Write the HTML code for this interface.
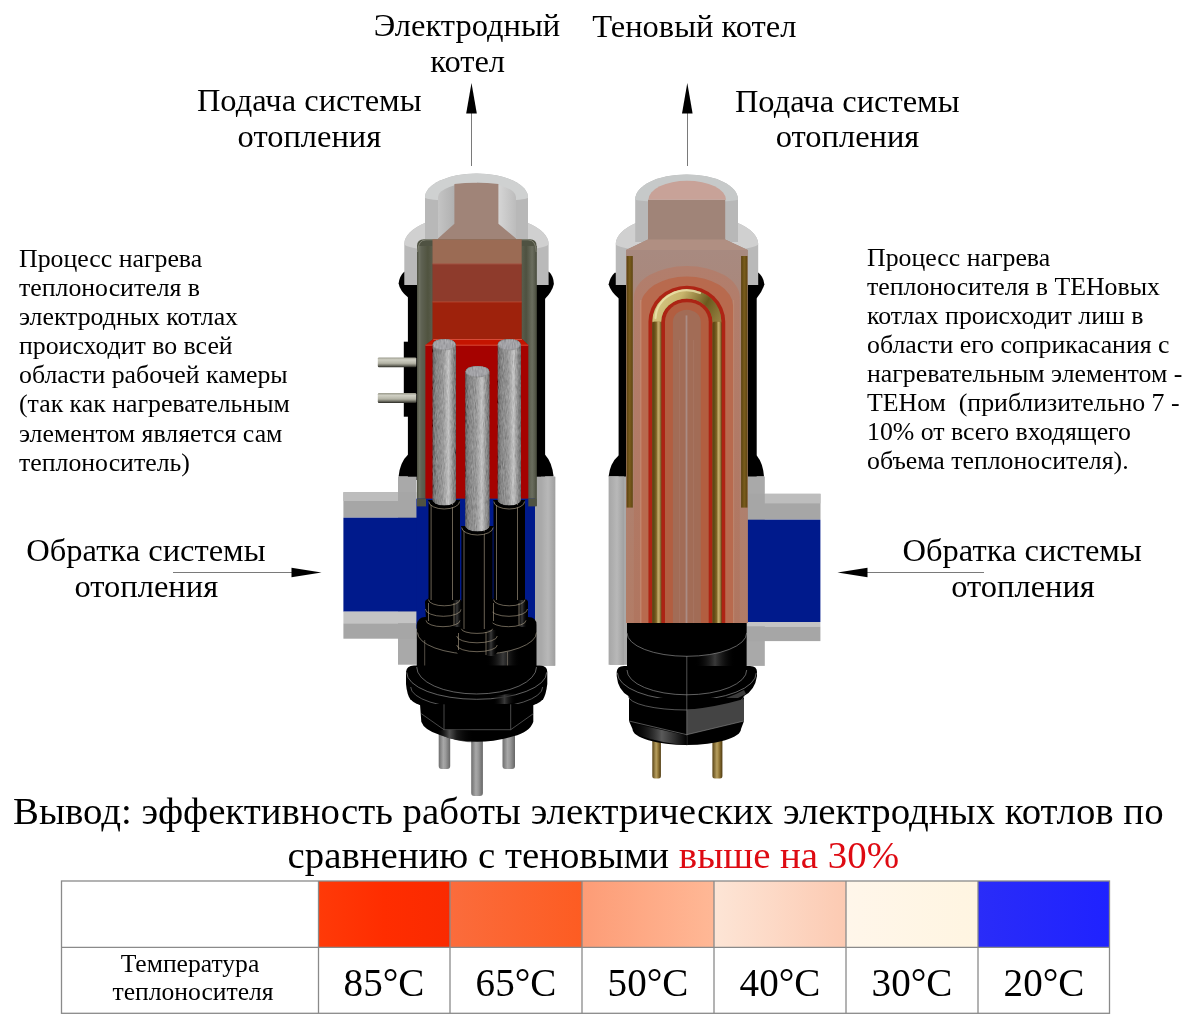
<!DOCTYPE html>
<html><head><meta charset="utf-8">
<style>
html,body{margin:0;padding:0;background:#fff;width:1200px;height:1021px;overflow:hidden}
svg{position:absolute;left:0;top:0;display:block;will-change:transform}
text{font-family:"Liberation Serif",serif;fill:#000}
.t32{font-size:32.5px}
.p{font-size:25.8px}
.c{font-size:38.85px}
.tv{font-size:39.1px}
.tl{font-size:25.6px}
</style></head>
<body>
<svg width="1200" height="1021" viewBox="0 0 1200 1021">
<defs>
  <linearGradient id="elec" x1="0" x2="1">
    <stop offset="0" stop-color="#646464"/><stop offset="0.15" stop-color="#848484"/><stop offset="0.45" stop-color="#979797"/><stop offset="0.68" stop-color="#c2c2c2"/><stop offset="0.85" stop-color="#929292"/><stop offset="1" stop-color="#6a6a6a"/>
  </linearGradient>
  <linearGradient id="pin" x1="0" x2="1">
    <stop offset="0" stop-color="#6e6e6e"/><stop offset="0.4" stop-color="#a8a8a8"/><stop offset="0.6" stop-color="#9a9a9a"/><stop offset="1" stop-color="#666"/>
  </linearGradient>
  <linearGradient id="pinG" x1="0" x2="1">
    <stop offset="0" stop-color="#5a4416"/><stop offset="0.45" stop-color="#b8a060"/><stop offset="0.65" stop-color="#9a7e3c"/><stop offset="1" stop-color="#4e3a10"/>
  </linearGradient>
  <linearGradient id="rod" x1="0" x2="0" y1="0" y2="1">
    <stop offset="0" stop-color="#9a9a8c"/><stop offset="0.25" stop-color="#cfcfc3"/><stop offset="0.6" stop-color="#b4b4a6"/><stop offset="0.8" stop-color="#7a7a6e"/><stop offset="1" stop-color="#2a2a24"/>
  </linearGradient>
  <linearGradient id="cavL" x1="0" x2="1">
    <stop offset="0" stop-color="#c4c4c4"/><stop offset="0.6" stop-color="#a8a8a8"/><stop offset="1" stop-color="#e6e6e6"/>
  </linearGradient>
  <linearGradient id="cavR" x1="1" x2="0">
    <stop offset="0" stop-color="#bcbcbc"/><stop offset="0.5" stop-color="#d8d8d8"/><stop offset="1" stop-color="#a0a0a0"/>
  </linearGradient>
  <linearGradient id="hsR" x1="0" x2="1">
    <stop offset="0" stop-color="#a9a9a9"/><stop offset="0.5" stop-color="#b8b8b8"/><stop offset="1" stop-color="#a0a0a0"/>
  </linearGradient>
  <linearGradient id="plugHi" x1="0" x2="1">
    <stop offset="0" stop-color="#000" stop-opacity="0"/><stop offset="0.5" stop-color="#3a3a3a"/><stop offset="1" stop-color="#000" stop-opacity="0"/>
  </linearGradient>
  <linearGradient id="nutHi" x1="0" x2="1">
    <stop offset="0" stop-color="#000" stop-opacity="0"/><stop offset="0.35" stop-color="#505050"/><stop offset="0.55" stop-color="#1a1a1a"/><stop offset="1" stop-color="#000" stop-opacity="0"/>
  </linearGradient>
  <linearGradient id="goldV" x1="0" x2="1">
    <stop offset="0" stop-color="#7a5e22"/><stop offset="0.5" stop-color="#a88a50"/><stop offset="1" stop-color="#7a5e22"/>
  </linearGradient>
  <linearGradient id="goldArc" gradientUnits="userSpaceOnUse" x1="655" y1="290" x2="720" y2="325">
    <stop offset="0" stop-color="#d8cc8a"/><stop offset="0.35" stop-color="#c8b46c"/><stop offset="0.7" stop-color="#6a5a1e"/><stop offset="1" stop-color="#9a8444"/>
  </linearGradient>
  <linearGradient id="barG" x1="0" x2="1">
    <stop offset="0" stop-color="#5a4210"/><stop offset="0.5" stop-color="#7a5c1c"/><stop offset="1" stop-color="#5e4612"/>
  </linearGradient>
  <linearGradient id="nutHi2" x1="0" x2="1">
    <stop offset="0" stop-color="#000" stop-opacity="0"/><stop offset="0.55" stop-color="#5a5a5a"/><stop offset="0.8" stop-color="#2a2a2a"/><stop offset="1" stop-color="#000"/>
  </linearGradient>
  <linearGradient id="rbg" x1="0" x2="0" y1="0" y2="1">
    <stop offset="0" stop-color="#a88a80"/><stop offset="0.2" stop-color="#aa8679"/><stop offset="1" stop-color="#b27c66"/>
  </linearGradient>
  <linearGradient id="band1" x1="0" x2="0" y1="0" y2="1">
    <stop offset="0" stop-color="#b27e6c"/><stop offset="1" stop-color="#b07660"/>
  </linearGradient>
  <filter id="grain" x="0" y="0" width="1" height="1">
    <feTurbulence type="fractalNoise" baseFrequency="0.9 0.2" numOctaves="2" seed="7" result="t"/>
    <feColorMatrix in="t" type="matrix" values="0.33 0.33 0.33 0 0  0.33 0.33 0.33 0 0  0.33 0.33 0.33 0 0  0 0 0 0 1" result="g"/>
    <feComposite in="SourceGraphic" in2="g" operator="arithmetic" k1="0" k2="1" k3="0.45" k4="-0.22" result="c"/>
    <feComposite in="c" in2="SourceAlpha" operator="in"/>
  </filter>
  <linearGradient id="leg" x1="0" x2="1">
    <stop offset="0" stop-color="#5a4414"/><stop offset="0.2" stop-color="#624a16"/><stop offset="0.45" stop-color="#7e6424"/><stop offset="0.65" stop-color="#c4ac6c"/><stop offset="0.85" stop-color="#a89050"/><stop offset="1" stop-color="#5e4814"/>
  </linearGradient>
  <linearGradient id="linerL" x1="0" x2="1">
    <stop offset="0" stop-color="#4c4f40"/><stop offset="0.15" stop-color="#6c6f60"/><stop offset="0.3" stop-color="#5e6152"/><stop offset="0.7" stop-color="#50533f"/><stop offset="1" stop-color="#5a5d4c"/>
  </linearGradient>
  <linearGradient id="linerR" x1="0" x2="1">
    <stop offset="0" stop-color="#5a5d4c"/><stop offset="0.3" stop-color="#4e5140"/><stop offset="0.7" stop-color="#6a6d5e"/><stop offset="0.85" stop-color="#5c5f50"/><stop offset="1" stop-color="#484b3c"/>
  </linearGradient>
</defs>

<!-- BOILERS -->
<g id="boilers">
<g id="leftBoiler">
  <!-- black body -->
  <rect x="407.9" y="280" width="137.2" height="200" fill="#000"/>
  <path d="M404.2,271.8 L549,271.8 Q553.5,276 553.9,284 Q552,292 545.1,298.7 L407.9,297.3 Q400,291 398.6,283.5 Q399.5,276 404.2,271.8 Z" fill="#000"/>
  <path d="M407.9,454.7 L545.1,454.7 Q552,462 553.6,476.5 L398.6,476.5 Q400,462 407.9,454.7 Z" fill="#000"/>
  <!-- housing grey sides -->
  <rect x="398" y="476.7" width="18.6" height="188" fill="#a9a9a9"/>
  <rect x="535" y="476.7" width="20.4" height="189" fill="#a9a9a9"/>
  <rect x="541" y="476.7" width="14" height="189" fill="url(#hsR)"/>
  <!-- inlet pipe -->
  <rect x="343.4" y="492.2" width="73" height="25.5" fill="#a6a6a6"/>
  <rect x="343.4" y="492.2" width="54.6" height="8.8" fill="#bdbdbd"/>
  <rect x="343.4" y="517.7" width="80" height="94" fill="#001a8c"/>
  <rect x="343.4" y="611.6" width="75" height="11.7" fill="#c4c4c4"/>
  <rect x="343.4" y="623.3" width="73" height="15.4" fill="#a6a6a6"/>
  <!-- lower collar -->
  <path d="M404.3,285 L404.3,244 A72.15,30 0 0 1 548.6,244 L548.6,285 Z" fill="#b9b9b9"/>
  <path d="M404.3,244 A72.15,30 0 0 1 548.6,244 A72.15,8 0 0 1 404.3,244 Z" fill="#d0d0d0"/>
  <!-- upper cap -->
  <path d="M425,240 L425,197.5 A51.5,24 0 0 1 528,197.5 L528,240 Z" fill="#b8b8b8"/>
  <path d="M425,197.5 A51.5,24 0 0 1 528,197.5 A51.5,4 0 0 1 425,197.5 Z" fill="#cfd1d1"/>
  <!-- cavity walls -->
  <path d="M438,240 L438,197 A39,14.3 0 0 1 477,182.7 L477,240 Z" fill="url(#cavL)"/>
  <path d="M516,240 L516,197 A39,14.3 0 0 0 477,182.7 L477,240 Z" fill="url(#cavR)"/>
  <!-- upper water -->
  <path d="M454.4,184 Q476,181.5 498.4,184 L498.4,223.7 L516,238.6 L516,242 L438,242 L438,238.6 L454.4,223.7 Z" fill="#a08478"/>
  <!-- liner -->
  <path d="M417,506 L417,246 Q417,239.3 424,239.3 L530,239.3 Q536.6,239.3 536.6,246 L536.6,506 Z" fill="#4f5242"/>
  <rect x="417" y="246" width="15.5" height="260" fill="url(#linerL)"/>
  <rect x="521.7" y="246" width="14.9" height="260" fill="url(#linerR)"/>
  <path d="M417.6,252 Q418,240 426,239.8 L528,239.8 Q536,240 536.2,252" fill="none" stroke="#8a8c7c" stroke-width="0.8"/>
  <!-- water layers -->
  <rect x="432.5" y="239.3" width="89.2" height="24.2" fill="#9b6b54"/>
  <rect x="432.5" y="263.5" width="89.2" height="38.2" fill="#8e3b2c"/>
  <rect x="432.5" y="301.7" width="89.2" height="37.5" fill="#9e220c"/>
  <line x1="432.5" y1="263.8" x2="521.7" y2="263.8" stroke="#b86a55" stroke-width="0.8"/>
  <line x1="432.5" y1="301.9" x2="521.7" y2="301.9" stroke="#c0503a" stroke-width="0.8"/>
  <!-- red zone -->
  <path d="M433.3,339 L522,339 L528.3,345.2 L528.3,498.7 L425.4,498.7 L425.4,345.2 Z" fill="#a50200"/>
  <path d="M433.3,339 L522,339 L528.3,345.2 L425.4,345.2 Z" fill="#c41400"/>
  <path d="M433.3,339.5 L522,339.5 M425.4,345.2 L528.3,345.2" stroke="#d84a36" stroke-width="1"/>
  <!-- blue chamber -->
  <rect x="416.4" y="498.7" width="118.6" height="130" fill="#001a8c"/>
  <path d="M417,498.7 L426,498.7 L426,506.4 L417,506.4 Z" fill="#4f5242"/>
  <path d="M528.3,498.7 L536.6,498.7 L536.6,506.4 L528.3,506.4 Z" fill="#4f5242"/>
</g>
<g id="leftBoiler2">
  <!-- plug -->
  <path d="M416.7,625 Q418,617 425,617 L528,617 Q536.5,617 536.5,625 L536.5,672 L416.7,672 Z" fill="#000"/>
  <clipPath id="lpb"><path d="M417.5,632.5 A59.5,21.9 0 0 0 536.5,632.5 L536.5,667 A59.9,27 0 0 1 416.7,667 Z"/></clipPath>
  <rect x="486" y="635" width="34" height="62" fill="url(#plugHi)" clip-path="url(#lpb)"/>
  <path d="M417.5,632.5 A59.5,21.9 0 0 0 536.5,632.5" fill="none" stroke="#9a9080" stroke-width="0.7"/>
  <line x1="424.7" y1="640" x2="424.7" y2="680" stroke="#8a8070" stroke-width="0.6"/>
  <line x1="507.5" y1="651.7" x2="507.5" y2="690" stroke="#8a8070" stroke-width="0.6"/>
  <!-- sleeves L/R -->
  <g fill="#000">
    <rect x="428.5" y="500" width="31.5" height="100"/>
    <rect x="493.5" y="500" width="31.5" height="100"/>
    <path d="M425,602 A18.5,6 0 0 1 462,602 L462,621 A18,6.5 0 0 1 426,621 Z"/>
    <path d="M490,602 A19,6 0 0 1 528,602 L528,621 A18.5,6.5 0 0 1 491,621 Z"/>
  </g>
  <rect x="452" y="600" width="10" height="27" fill="url(#plugHi)"/>
  <rect x="517" y="600" width="10" height="27" fill="url(#plugHi)"/>
  <g fill="none" stroke="#b0a38c" stroke-width="0.6">
    <line x1="431.1" y1="504" x2="431.1" y2="600"/><line x1="452.5" y1="504" x2="452.5" y2="600"/>
    <line x1="496.5" y1="504" x2="496.5" y2="600"/><line x1="517.5" y1="504" x2="517.5" y2="600"/>
    <path d="M428.5,599.6 A15.75,6.2 0 0 0 460,599.6"/><path d="M425.4,609 A18,7.3 0 0 0 461.4,609"/><path d="M426,620.4 A17,6.3 0 0 0 460,620.4"/>
    <path d="M493.5,599.6 A15.75,6.2 0 0 0 525,599.6"/><path d="M490.5,609 A18.5,7.3 0 0 0 527.5,609"/><path d="M491,620.4 A17.5,6.3 0 0 0 526,620.4"/>
    <line x1="428.5" y1="603" x2="428.5" y2="621"/><line x1="454" y1="603" x2="454" y2="625"/>
    <line x1="493.5" y1="603" x2="493.5" y2="621"/><line x1="519" y1="603" x2="519" y2="625"/>
  </g>
  <!-- electrodes L & R -->
  <g filter="url(#grain)">
  <path d="M432.4,500 L432.4,345 Q432.4,339 444.2,339 Q456,339 456,345 L456,500 A11.8,5.5 0 0 1 432.4,500 Z" fill="url(#elec)"/>
  <ellipse cx="444.2" cy="344.6" rx="11.3" ry="5.4" fill="#a2a2a6" stroke="#8a8a8a" stroke-width="0.6"/>
  <path d="M497.5,500 L497.5,345 Q497.5,339 509.2,339 Q521,339 521,345 L521,500 A11.75,5.5 0 0 1 497.5,500 Z" fill="url(#elec)"/>
  <ellipse cx="509.2" cy="344.6" rx="11.3" ry="5.4" fill="#a2a2a6" stroke="#8a8a8a" stroke-width="0.6"/>
  </g>
  <path d="M429.5,500 A14.7,7.8 0 0 0 459,500" fill="none" stroke="#000" stroke-width="2.2"/>
  <path d="M494.5,500 A14.7,7.8 0 0 0 524,500" fill="none" stroke="#000" stroke-width="2.2"/>
  <path d="M428.8,501.5 A15.4,7.5 0 0 0 459.6,501.5" fill="none" stroke="#b8ab92" stroke-width="0.6"/>
  <path d="M493.8,501.5 A15.4,7.5 0 0 0 524.6,501.5" fill="none" stroke="#b8ab92" stroke-width="0.6"/>
  <!-- center sleeve -->
  <g fill="#000">
    <rect x="461.4" y="526" width="31.2" height="104"/>
    <path d="M456.7,633 A20.3,6 0 0 1 497.3,633 L497.3,651.7 A20.3,6 0 0 1 456.7,651.7 Z"/>
  </g>
  <rect x="485" y="630" width="12" height="26" fill="url(#plugHi)"/>
  <g fill="none" stroke="#b0a38c" stroke-width="0.6">
    <line x1="464" y1="530" x2="464" y2="629"/><line x1="484.3" y1="530" x2="484.3" y2="629"/>
    <path d="M461.4,628.8 A15.6,4.6 0 0 0 492.6,628.8"/><path d="M456.7,636 A20.3,6.8 0 0 0 497.3,636"/><path d="M456.7,645 A20.3,6.7 0 0 0 497.3,645"/>
    <line x1="458.5" y1="633" x2="458.5" y2="650"/><line x1="486" y1="632" x2="486" y2="655"/>
  </g>
  <g filter="url(#grain)">
  <path d="M465.2,526 L465.2,372 Q465.2,366 477.4,366 Q489.7,366 489.7,372 L489.7,526 A12.25,5.5 0 0 1 465.2,526 Z" fill="url(#elec)"/>
  <ellipse cx="477.4" cy="371.6" rx="11.6" ry="5.4" fill="#a2a2a6" stroke="#8a8a8a" stroke-width="0.6"/>
  </g>
  <path d="M462.4,526 A15,7.8 0 0 0 492.4,526" fill="none" stroke="#000" stroke-width="2.2"/>
  <path d="M461.7,527.5 A15.7,7.5 0 0 0 493.1,527.5" fill="none" stroke="#b8ab92" stroke-width="0.6"/>
  <!-- pins -->
  <rect x="438.7" y="725" width="11.5" height="44" rx="3" fill="url(#pin)"/>
  <rect x="502.5" y="725" width="12.5" height="44" rx="3" fill="url(#pin)"/>
  <rect x="471.2" y="725" width="11.7" height="71" rx="3" fill="url(#pin)"/>
  <!-- flange -->
  <path d="M406,672 Q406.5,665.5 414,665.5 L540,665.5 Q547.3,665.5 547.3,672 L547.3,684 Q546,695 542.7,700 L410.7,700 Q407,695 406,684 Z" fill="#000"/>
  <path d="M410.7,698 A66,14 0 0 0 542.7,698" fill="#000"/>
  <path d="M416.7,667 A59.9,27 0 0 0 536.5,667" fill="none" stroke="#8a8a8a" stroke-width="0.7"/>
  <path d="M406.7,672.3 A70,27 0 0 0 546.7,672.3" fill="none" stroke="#8c8c8c" stroke-width="0.7"/>
  <path d="M410.7,687 A66,21.3 0 0 0 542.7,687" fill="none" stroke="#7a7a7a" stroke-width="0.7"/>
  <path d="M493,696 Q505,695 516,692 L516,702 Q505,705 493,706 Z" fill="url(#plugHi)"/>
  <!-- nut -->
  <path d="M420,704 L533.3,704 L533.3,721.7 Q530,732 513.3,736.3 Q474,748 440,735 Q424,730 421.3,721.7 Z" fill="#000"/>
  <path d="M444,704.3 L444,729.7 M510.7,704.3 L510.7,729.7" stroke="#7a7a7a" stroke-width="0.6"/>
  <path d="M421.3,713.7 L444,729.7 L510.7,729.7 L533.3,713.7" fill="none" stroke="#7a7a7a" stroke-width="0.6"/>
  <path d="M436,731 L444,729.7 L474,729.7 L474,743 Q455,741 440,735 Z" fill="url(#nutHi)"/>
  <!-- side rods and tab -->
  <rect x="403.8" y="341.7" width="12" height="75" fill="#000"/>
  <rect x="377.8" y="357.4" width="38.5" height="9.8" rx="1.2" fill="url(#rod)"/>
  <rect x="377.8" y="393.1" width="38.5" height="9.8" rx="1.2" fill="url(#rod)"/>
</g>
</g>

<g id="rightBoiler">
  <!-- black body -->
  <rect x="618.6" y="280" width="138.1" height="200" fill="#000"/>
  <path d="M614.7,272.7 L758.6,272.7 Q763.5,277 764.4,284.5 Q762,292 756.7,298.2 L618.6,298.2 Q611,292 608.6,284.5 Q610,277 614.7,272.7 Z" fill="#000"/>
  <path d="M618.6,455.5 L756.7,455.5 Q763,463 764,476.5 L608.6,476.5 Q610,463 618.6,455.5 Z" fill="#000"/>
  <!-- housing -->
  <rect x="608.6" y="476.5" width="18.4" height="188.3" fill="#a9a9a9"/>
  <rect x="746.5" y="476.5" width="18.3" height="189.4" fill="#a9a9a9"/>
  <rect x="610" y="476.5" width="14" height="188.3" fill="url(#hsR)"/>
  <!-- outlet pipe -->
  <rect x="746.5" y="493.8" width="74" height="25.9" fill="#a6a6a6"/>
  <rect x="764.8" y="493.8" width="55.6" height="9.6" fill="#bdbdbd"/>
  <rect x="746.5" y="519.7" width="73.9" height="102.3" fill="#001a8c"/>
  <rect x="746.5" y="622" width="73.9" height="4.5" fill="#c4c4c4"/>
  <rect x="746.5" y="626.5" width="73.9" height="14.6" fill="#a6a6a6"/>
  <!-- lower collar -->
  <path d="M615.75,285 L615.75,244 A71.2,30 0 0 1 758.2,244 L758.2,285 Z" fill="#b9b9b9"/>
  <path d="M615.75,244 A71.2,30 0 0 1 758.2,244 A71.2,8 0 0 1 615.75,244 Z" fill="#d0d0d0"/>
  <!-- upper cap -->
  <path d="M635.2,242 L635.2,199.4 A51.4,25 0 0 1 738,199.4 L738,242 Z" fill="#b8b8b8"/>
  <path d="M635.2,199.4 A51.4,25 0 0 1 738,199.4 A51.4,3 0 0 1 635.2,199.4 Z" fill="#c6c9c9"/>
  <!-- water region -->
  <path d="M648,199.7 L725.2,199.7 L725.2,239.5 L747.7,250 L747.7,623 L626,623 L626,250 L648,239.5 Z" fill="#a08478"/>
  <path d="M648.4,199.7 A38.8,19 0 0 1 726,199.7 Z" fill="#c8a298"/>
  <path d="M648,239.5 L725.2,239.5 L747.7,250 L626,250 Z" fill="#b08f82"/>
  <rect x="626" y="250" width="121.7" height="373" fill="url(#rbg)"/>
  <!-- arcs / U-bands -->
  <path d="M633.9,623 L633.9,297 A52.95,31 0 0 1 739.8,297 L739.8,623 Z" fill="url(#band1)"/>
  <path d="M640.6,623 L640.6,306 A46.25,29.6 0 0 1 733.1,306 L733.1,623 Z" fill="#b86a4e"/>
  <path d="M648.45,623 L648.45,321.7 A38.4,36 0 0 1 725.25,321.7 L725.25,623 Z" fill="#ae2414"/>
  <path d="M652.3,623 L652.3,321.7 A34.55,32.3 0 0 1 721.4,321.7 L721.4,623 Z" fill="url(#goldV)"/>
  <path d="M661.2,623 L661.2,321.7 A25.65,23.2 0 0 1 712.5,321.7 L712.5,623 Z" fill="#ac2414"/>
  <path d="M665,623 L665,321.7 A21.85,19.6 0 0 1 708.7,321.7 L708.7,623 Z" fill="#b25e40"/>
  <path d="M672.9,623 L672.9,321.7 A13.95,12 0 0 1 700.8,321.7 L700.8,623 Z" fill="#a26c56"/>
  <!-- tube arc gradient overlay -->
  <path d="M652.3,321.7 A34.55,32.3 0 0 1 721.4,321.7 L712.5,321.7 A25.65,23.2 0 0 0 661.2,321.7 Z" fill="url(#goldArc)"/>
  <path d="M655.5,318 A31.4,28.8 0 0 1 700,293" fill="none" stroke="#efe6b0" stroke-width="2.2" stroke-linecap="round" opacity="0.75"/>
  <!-- stripes details -->
  <g>
    <rect x="640.2" y="300" width="1.2" height="323" fill="#c89078" opacity="0.8"/>
    <rect x="652.3" y="321.7" width="8.9" height="306" rx="2" fill="url(#leg)"/>
    <rect x="712.5" y="321.7" width="8.9" height="306" rx="2" fill="url(#leg)"/>
    <rect x="685.6" y="315.4" width="1.8" height="307.6" fill="#aa8c84"/>
    <rect x="679" y="340" width="1.2" height="283" fill="#a87866" opacity="0.6"/>
    <rect x="693" y="340" width="1.2" height="283" fill="#a87866" opacity="0.6"/>
    <rect x="733" y="300" width="1.2" height="323" fill="#c08a70" opacity="0.7"/>
  </g>
  <!-- gold bars -->
  <rect x="626.6" y="256" width="6.2" height="251.6" fill="url(#barG)"/>
  <rect x="741.1" y="256" width="6.3" height="251.6" fill="url(#barG)"/>
  <!-- plug -->
  <rect x="627" y="623" width="119.7" height="50" fill="#000"/>
  <clipPath id="rpb"><path d="M627,632.9 A59.85,23.4 0 0 0 746.7,632.9 L746.7,670 A59.85,24.8 0 0 1 627,670 Z"/></clipPath>
  <rect x="695" y="640" width="40" height="60" fill="url(#plugHi)" clip-path="url(#rpb)"/>
  <path d="M627,632.9 A59.85,23.4 0 0 0 746.7,632.9" fill="none" stroke="#8a8a8a" stroke-width="0.7"/>
  <!-- pins -->
  <rect x="652.3" y="725" width="8.6" height="53.5" rx="2.5" fill="url(#pinG)"/>
  <rect x="712.4" y="725" width="10" height="53.5" rx="2.5" fill="url(#pinG)"/>
  <!-- flange -->
  <path d="M616.7,672 Q617,665.9 624,665.9 L750,665.9 Q757,665.9 757,672 L757,676 Q755,690 744,696 A57.8,14 0 0 1 628.4,696 Q618,690 616.7,676 Z" fill="#000"/>
  <path d="M627,670 A59.85,24.8 0 0 0 746.7,670" fill="none" stroke="#8a8a8a" stroke-width="0.7"/>
  <path d="M617.4,672.8 A69.45,27.5 0 0 0 756.3,672.8" fill="none" stroke="#8c8c8c" stroke-width="0.7"/>
  <path d="M706,703 Q728,699 744,690 L746,694 Q728,704 706,708 Z" fill="#3c3c3c"/>
  <!-- lower body -->
  <path d="M629,698 L744,698 L744,721 L741,729 A54.25,16 0 0 1 632.5,729 L629,721 Z" fill="#000"/>
  <path d="M628.4,696 A57.8,14 0 0 0 744,696" fill="none" stroke="#7a7a7a" stroke-width="0.7"/>
  <path d="M686.8,710 Q716,707 744,699 L744,721 L686.8,734.7 Z" fill="#444"/>
  <path d="M629,721 L686.8,734.7 L744,721" fill="none" stroke="#8a8a8a" stroke-width="0.6"/>
  <line x1="686.8" y1="656" x2="686.8" y2="745.7" stroke="#8a8a8a" stroke-width="0.6"/>
  <path d="M631,723 L686.8,735.5 L686.8,745 Q660,743 638,735 Z" fill="url(#nutHi2)"/>
</g>

<!-- ARROWS -->
<g stroke="#7a7a7a" stroke-width="1" fill="none">
  <line x1="471.5" y1="110" x2="471.5" y2="166"/>
  <line x1="687.5" y1="110" x2="687.5" y2="166"/>
  <line x1="173" y1="572.5" x2="295" y2="572.5"/>
  <line x1="864" y1="572.5" x2="984" y2="572.5"/>
</g>
<g fill="#000">
  <polygon points="471.5,83 466.2,113.5 476.8,113.5"/>
  <polygon points="687.3,83 682,113.5 692.6,113.5"/>
  <polygon points="321.5,572.5 291.5,567.8 291.5,577.2"/>
  <polygon points="837.5,572.5 867.5,567.8 867.5,577.2"/>
</g>

<!-- TITLES -->
<g class="t32" text-anchor="middle">
  <text x="467" y="35.6">Электродный</text>
  <text x="467.7" y="71.6">котел</text>
  <text x="694.3" y="37">Теновый котел</text>
  <text x="309.2" y="111.4">Подача системы</text>
  <text x="309.4" y="147.2">отопления</text>
  <text x="847.2" y="111.8">Подача системы</text>
  <text x="847.5" y="147">отопления</text>
  <text x="145.9" y="561">Обратка системы</text>
  <text x="146.3" y="597">отопления</text>
  <text x="1022.2" y="561">Обратка системы</text>
  <text x="1023" y="597">отопления</text>
</g>

<!-- PARAGRAPHS -->
<g class="p">
  <text x="19" y="266.7">Процесс нагрева</text>
  <text x="19" y="295.85">теплоносителя в</text>
  <text x="19" y="325">электродных котлах</text>
  <text x="19" y="354.15">происходит во всей</text>
  <text x="19" y="383.3">области рабочей камеры</text>
  <text x="19" y="412.45">(так как нагревательным</text>
  <text x="19" y="441.6">элементом является сам</text>
  <text x="19" y="470.75">теплоноситель)</text>
</g>
<g class="p">
  <text x="867" y="265.7">Процесс нагрева</text>
  <text x="867" y="294.75">теплоносителя в ТЕНовых</text>
  <text x="867" y="323.8">котлах происходит лиш в</text>
  <text x="867" y="352.85">области его соприкасания с</text>
  <text x="867" y="381.9">нагревательным элементом -</text>
  <text x="867" y="410.95" xml:space="preserve">ТЕНом  (приблизительно 7 -</text>
  <text x="867" y="440">10% от всего входящего</text>
  <text x="867" y="469.05">объема теплоносителя).</text>
</g>

<!-- CONCLUSION -->
<g class="c">
  <text x="13" y="823.7">Вывод: эффективность работы электрических электродных котлов по</text>
  <text x="287.5" y="868" xml:space="preserve">сравнению с теновыми <tspan fill="#de0a12" style="fill:#de0a12">выше на 30%</tspan></text>
</g>

<!-- TABLE -->
<defs>
  <linearGradient id="g85" x1="0" x2="1"><stop offset="0" stop-color="#ff3a08"/><stop offset="0.5" stop-color="#ff2d00"/><stop offset="1" stop-color="#fa2a00"/></linearGradient>
  <linearGradient id="g65" x1="0" x2="1"><stop offset="0" stop-color="#fb6c3c"/><stop offset="1" stop-color="#fd5c22"/></linearGradient>
  <linearGradient id="g50" x1="0" x2="1"><stop offset="0" stop-color="#fd9c76"/><stop offset="1" stop-color="#ffb896"/></linearGradient>
  <linearGradient id="g40" x1="0" x2="1"><stop offset="0" stop-color="#fde5d6"/><stop offset="1" stop-color="#fccab2"/></linearGradient>
  <linearGradient id="g30" x1="0" x2="1"><stop offset="0" stop-color="#fff6ea"/><stop offset="1" stop-color="#fff5e1"/></linearGradient>
  <linearGradient id="g20" x1="0" x2="1"><stop offset="0" stop-color="#2a2cf8"/><stop offset="1" stop-color="#1f22ff"/></linearGradient>
</defs>
<g>
  <rect x="318.5" y="881" width="131.5" height="66" fill="url(#g85)"/>
  <rect x="450" y="881" width="132" height="66" fill="url(#g65)"/>
  <rect x="582" y="881" width="132" height="66" fill="url(#g50)"/>
  <rect x="714" y="881" width="132" height="66" fill="url(#g40)"/>
  <rect x="846" y="881" width="132" height="66" fill="url(#g30)"/>
  <rect x="978" y="881" width="131.5" height="66" fill="url(#g20)"/>
</g>
<g stroke="#8a8a8a" stroke-width="1.3" fill="none">
  <rect x="61.5" y="881" width="1048" height="132.3"/>
  <line x1="61.5" y1="947.3" x2="1109.5" y2="947.3"/>
  <line x1="318.5" y1="881" x2="318.5" y2="1013.3"/>
  <line x1="450" y1="881" x2="450" y2="1013.3"/>
  <line x1="582" y1="881" x2="582" y2="1013.3"/>
  <line x1="714" y1="881" x2="714" y2="1013.3"/>
  <line x1="846" y1="881" x2="846" y2="1013.3"/>
  <line x1="978" y1="881" x2="978" y2="1013.3"/>
</g>
<g class="tl" text-anchor="middle">
  <text x="190" y="971.7">Температура</text>
  <text x="193" y="1000">теплоносителя</text>
</g>
<g class="tv" text-anchor="middle">
  <text x="384" y="995.7">85°C</text>
  <text x="516" y="995.7">65°C</text>
  <text x="648" y="995.7">50°C</text>
  <text x="780" y="995.7">40°C</text>
  <text x="912" y="995.7">30°C</text>
  <text x="1044" y="995.7">20°C</text>
</g>
</svg>
</body></html>
